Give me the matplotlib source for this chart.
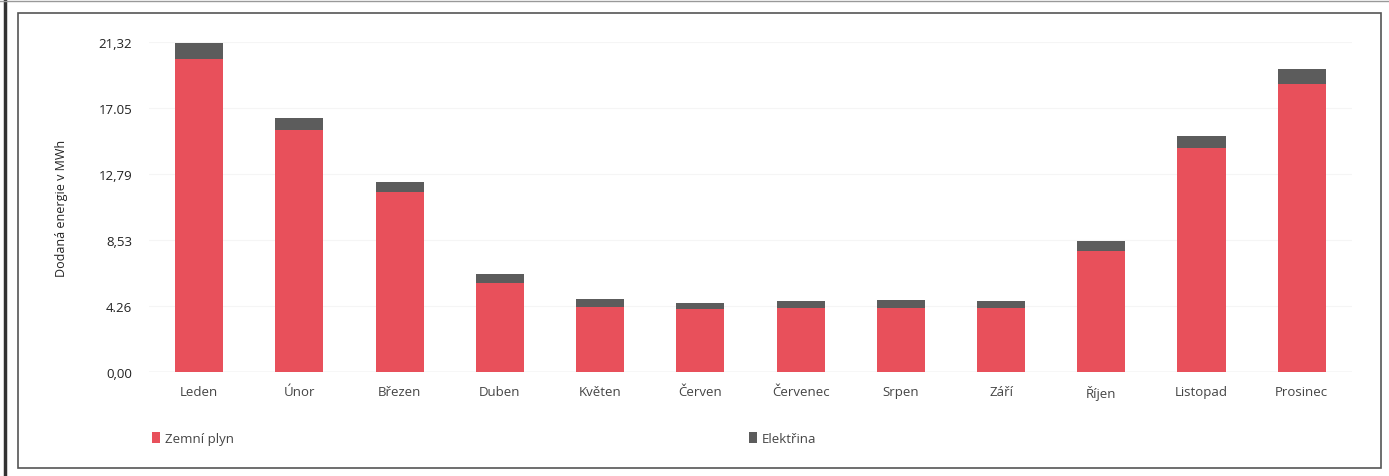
import numpy as np
import matplotlib.pyplot as plt
from matplotlib.patches import Rectangle
from matplotlib.lines import Line2D

plt.rcParams["font.family"] = ["Open Sans", "DejaVu Sans"]

months = ["Leden", "Únor", "Březen", "Duben", "Květen", "Červen",
          "Červenec", "Srpen", "Září", "Říjen", "Listopad", "Prosinec"]
zemni_plyn = [20.20, 15.63, 11.63, 5.75, 4.20, 4.07, 4.13, 4.13, 4.13, 7.82, 14.47, 18.60]
elektrina = [1.05, 0.77, 0.64, 0.58, 0.52, 0.39, 0.46, 0.52, 0.46, 0.64, 0.78, 0.97]
yticks = [0.0, 4.26, 8.53, 12.79, 17.05, 21.32]
ytick_labels = ["0,00", "4.26", "8,53", "12,79", "17.05", "21,32"]

red = "#e8505b"
grey = "#5c5c5c"
txt = "#444444"

fig = plt.figure(figsize=(13.89, 4.77), dpi=100)
ax = fig.add_axes([0.1073, 0.218, 0.866, 0.692])

x = np.arange(len(months))
ax.bar(x, zemni_plyn, width=0.48, color=red, label="Zemní plyn", zorder=2)
ax.bar(x, elektrina, width=0.48, bottom=zemni_plyn, color=grey, label="Elektřina", zorder=2)

ax.set_xlim(-0.5, len(months) - 0.5)
ax.set_ylim(0, 21.32)
ax.set_yticks(yticks)
ax.set_yticklabels(ytick_labels)
ax.set_xticks(x)
ax.set_xticklabels(months)
ax.tick_params(length=0, labelsize=9.5, colors=txt)
ax.tick_params(axis="x", pad=9)
ax.tick_params(axis="y", pad=12)
for lab in ax.get_yticklabels():
    lab.set_color("#222222")
ax.grid(axis="y", color="#f5f5f5", linewidth=0.8, zorder=0)
for s in ax.spines.values():
    s.set_visible(False)
ax.axhline(0, color="#dddddd", linewidth=1, zorder=1)
ax.set_ylabel("Dodaná energie v MWh", fontsize=9, color="#222222", labelpad=22)

h, l = ax.get_legend_handles_labels()
fig.legend(h, l, loc="center left", bbox_to_anchor=(0.101, 0.078), ncol=2,
           frameon=False, fontsize=9.5, handlelength=0.6, handleheight=0.9,
           handletextpad=0.4, columnspacing=39, labelcolor=txt)

# scanned page frame
fig.patches.append(Rectangle((18 / 1389, 8 / 477), 1363 / 1389, 455 / 477,
                             transform=fig.transFigure, fill=False,
                             edgecolor="#555555", linewidth=1.2))
fig.lines.append(Line2D([4.5 / 1389, 4.5 / 1389], [0, 1], transform=fig.transFigure,
                        color="#333333", linewidth=2.5))
fig.lines.append(Line2D([0, 1], [1 - 2 / 477, 1 - 2 / 477], transform=fig.transFigure,
                        color="#999999", linewidth=1))

fig.savefig("out.png", dpi=100)
